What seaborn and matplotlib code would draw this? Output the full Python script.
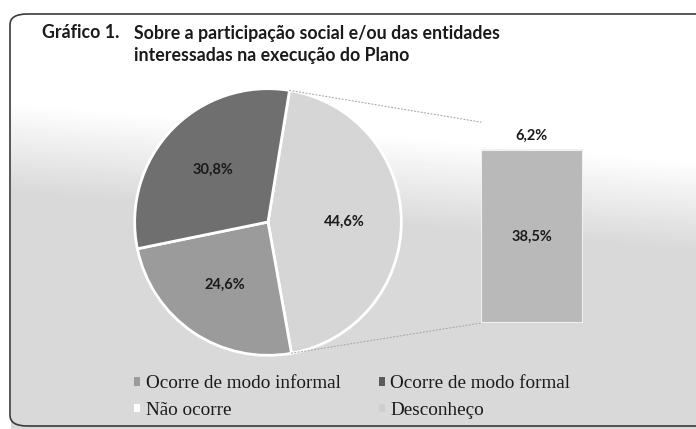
import numpy as np
import matplotlib.pyplot as plt
import seaborn as sns
from matplotlib.patches import FancyBboxPatch, Patch, ConnectionPatch

# Dados
pie_labels = ["Outros", "Ocorre de modo informal", "Ocorre de modo formal"]
pie_values = [44.6, 24.6, 30.8]
pie_colors = ["#d6d6d6", "#9b9b9b", "#6f6f6f"]

bar_labels = ["Desconheço", "Não ocorre"]
bar_values = [38.5, 6.2]
bar_colors = ["#b9b9b9", "#ffffff"]

legend_labels = ["Ocorre de modo informal", "Ocorre de modo formal",
                 "Não ocorre", "Desconheço"]
legend_colors = ["#9b9b9b", "#5a5a5a", "#ffffff", "#cfcfcf"]

title_num = "Gráfico 1."
title_lines = ["Sobre a participação social e/ou das entidades",
               "interessadas na execução do Plano"]

sns.set_theme(style="white")
plt.rcParams['font.family'] = ['Lato', 'DejaVu Sans']

W, H = 696, 429
fig = plt.figure(figsize=(W / 100, H / 100), dpi=100)
fig.patch.set_facecolor("white")

# fundo com gradiente (digitalização)
bg = fig.add_axes([0, 0, 1, 1], zorder=-5)
yy, xx = np.mgrid[0:H, 0:W]
# começa mais cedo à esquerda (perto da pizza), mais tarde à direita
y0 = 100 + 60 * (xx / W)
grad = np.clip(1.0 - (yy - y0) / 90.0 * 0.15, 0.85, 1.0)
grad[:, :11] = 1.0
bg.imshow(grad, cmap="gray", vmin=0, vmax=1, aspect="auto",
          extent=[0, W, H, 0], interpolation="bilinear")
bg.set_xlim(0, W)
bg.set_ylim(H, 0)
bg.axis("off")

# moldura arredondada
frame = FancyBboxPatch((10 / W, 3 / H), 720 / W, 412 / H,
                       boxstyle="round,pad=0,rounding_size=0.025",
                       transform=fig.transFigure, fill=False,
                       edgecolor="#3a3a3a", linewidth=1.2, zorder=10)
fig.patches.append(frame)

# título
fig.text(42 / W, 1 - 33 / H, title_num, fontsize=12.8, fontweight="bold",
         color="#1a1a1a", va="center", ha="left")
for i, line in enumerate(title_lines):
    fig.text(134 / W, 1 - (33 + 22 * i) / H, line, fontsize=12.8,
             fontweight="bold", color="#1a1a1a", va="center", ha="left")

# pizza
cx, cy, r = 268, 222, 136
ax_pie = fig.add_axes([(cx - r) / W, (H - cy - r) / H, 2 * r / W, 2 * r / H])
ax_pie.patch.set_alpha(0)
start = 80.7
wedges, texts, autotexts = ax_pie.pie(
    pie_values, colors=pie_colors, startangle=start, counterclock=False,
    autopct=lambda p: f"{p:.1f}%".replace(".", ","), pctdistance=0.57,
    wedgeprops=dict(edgecolor="white", linewidth=2),
    textprops=dict(fontsize=10.5, fontweight="bold", color="#1a1a1a"))
ax_pie.set_xlim(-1.02, 1.02)
ax_pie.set_ylim(-1.02, 1.02)
ax_pie.axis("off")

# barra empilhada (detalhe do setor "Outros")
bx0, bx1, by0 = 481, 583, 323
total = sum(bar_values)
scale = 173 / bar_values[0]
ax_bar = fig.add_axes([bx0 / W, (H - by0) / H, (bx1 - bx0) / W,
                       total * scale / H])
ax_bar.patch.set_alpha(0)
sns.barplot(x=[""], y=[total], color=bar_colors[1], width=1.0,
            saturation=1, ax=ax_bar)
sns.barplot(x=[""], y=[bar_values[0]], color=bar_colors[0], width=1.0,
            saturation=1, ax=ax_bar)
ax_bar.patches[0].set_alpha(0.6)
ax_bar.patches[1].set_edgecolor("#f0f0f0")
ax_bar.patches[1].set_linewidth(1.5)
ax_bar.set_xlim(-0.5, 0.5)
ax_bar.set_ylim(0, total)
ax_bar.axis("off")
ax_bar.text(0, bar_values[0] / 2, f"{bar_values[0]:.1f}%".replace(".", ","),
            ha="center", va="center", fontsize=10.5, fontweight="bold",
            color="#1a1a1a")
ax_bar.text(0, bar_values[0] + bar_values[1] / 2,
            f"{bar_values[1]:.1f}%".replace(".", ","),
            ha="center", va="center", fontsize=10.5, fontweight="bold",
            color="#1a1a1a")

# linhas de ligação
th1 = np.deg2rad(start)
th2 = np.deg2rad(start - pie_values[0] / 100 * 360)
for th, yb in [(th1, total), (th2, 0)]:
    con = ConnectionPatch(xyA=(np.cos(th), np.sin(th)), coordsA=ax_pie.transData,
                          xyB=(-0.5, yb), coordsB=ax_bar.transData,
                          color="#a8a8a8", linewidth=0.8, linestyle=(0, (1, 2)))
    fig.add_artist(con)

# legenda
handles = [Patch(facecolor=c, edgecolor="none") for c in legend_colors]
order = [0, 2, 1, 3]
leg = fig.legend([handles[i] for i in order], [legend_labels[i] for i in order],
                 ncol=2, loc="center left", bbox_to_anchor=(117 / W, 1 - 397 / H),
                 frameon=False, handlelength=0.3, handleheight=0.3,
                 handletextpad=0.3, columnspacing=2.0, labelspacing=0.5,
                 prop=dict(family="Liberation Serif", size=13.8))
for t in leg.get_texts():
    t.set_color("#1a1a1a")

fig.savefig("out.png", dpi=100)
